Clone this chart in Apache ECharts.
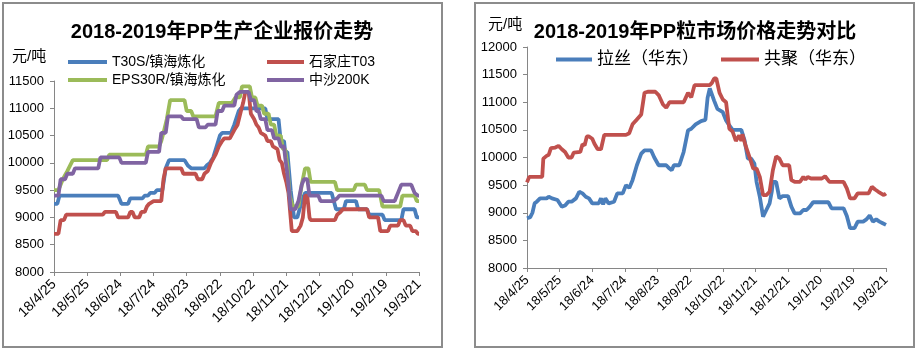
<!DOCTYPE html>
<html><head><meta charset="utf-8">
<script src="https://cdn.jsdelivr.net/npm/echarts@6/dist/echarts.min.js"></script>
<style>html,body{margin:0;padding:0;background:#fff}#c{width:917px;height:349px}</style>
</head><body><div id="c"></div>
<script>
// x values are day offsets from 2018-04-25; ticks every 30 days
const tickLabels = ['18/4/25','18/5/25','18/6/24','18/7/24','18/8/23','18/9/22','18/10/22','18/11/21','18/12/21','19/1/20','19/2/19','19/3/21'];
const leftNames = ['T30S/镇海炼化','石家庄T03','EPS30R/镇海炼化','中沙200K'];
const rightNames = ['拉丝（华东）','共聚（华东）'];

const t30s = [[0,9250],[3,9250],[5,9400],[58,9400],[61,9250],[67,9250],[69,9350],[80,9350],[82,9400],[85,9400],[87,9450],[91,9450],[93,9500],[98,9500],[101,9900],[104,10050],[118,10050],[121,9950],[124,9900],[136,9900],[138,9950],[141,10000],[144,10100],[147,10300],[150,10500],[152,10550],[160,10550],[163,10700],[167,10950],[169,11000],[191,11000],[193,10800],[203,10800],[205,10400],[208,10400],[209,10200],[211,10200],[214,9500],[217,9000],[220,9000],[224,9300],[227,9450],[251,9450],[253,9300],[255,9150],[262,9150],[264,9300],[273,9300],[275,9150],[283,9150],[285,9050],[297,9050],[299,8950],[314,8950],[316,9150],[326,9150],[328,9000],[330,9000]];
const sjzT03 = [[0,8700],[4,8700],[6,8950],[9,8950],[11,9050],[44,9050],[46,9100],[56,9100],[58,9000],[67,9000],[69,9100],[71,9100],[73,9000],[77,9000],[79,9100],[82,9100],[84,9200],[86,9250],[90,9300],[97,9300],[99,9700],[101,9900],[115,9900],[117,9800],[128,9800],[130,9700],[134,9700],[136,9800],[139,9850],[142,10000],[146,10150],[149,10300],[152,10400],[154,10450],[159,10450],[163,10600],[166,10700],[169,10950],[171,11100],[173,11300],[176,11300],[178,10900],[181,10800],[183,10700],[185,10650],[187,10550],[191,10500],[193,10400],[196,10400],[198,10300],[202,10250],[204,10050],[206,10000],[208,9800],[210,9650],[212,9450],[215,8750],[220,8750],[223,8850],[225,9000],[227,9400],[229,9400],[231,9000],[232,8950],[254,8950],[256,9050],[259,9100],[261,9150],[283,9150],[285,9000],[293,9000],[295,8750],[302,8750],[304,8850],[311,8850],[313,8950],[316,8950],[318,8850],[322,8850],[324,8750],[327,8750],[329,8700],[330,8700]];
const eps30r = [[0,9500],[4,9500],[8,9700],[12,9850],[17,10050],[48,10050],[50,10150],[83,10150],[85,10300],[95,10300],[97,10400],[99,10550],[102,10800],[105,11150],[118,11150],[120,10950],[124,10950],[126,10850],[146,10850],[149,11100],[161,11100],[164,11200],[168,11200],[170,11400],[177,11400],[179,11200],[182,11200],[184,11050],[188,11050],[190,10900],[194,10900],[196,10700],[199,10700],[201,10500],[205,10500],[207,10250],[209,10250],[211,9950],[213,9400],[216,9200],[221,9200],[224,9600],[227,9900],[230,9900],[232,9650],[254,9650],[256,9500],[271,9500],[273,9600],[281,9600],[283,9500],[294,9500],[297,9200],[313,9200],[315,9400],[326,9400],[328,9300],[330,9300]];
const zs200k = [[0,9400],[4,9400],[6,9700],[10,9700],[12,9800],[17,9800],[19,9900],[40,9900],[42,10100],[59,10100],[61,10000],[83,10000],[85,10200],[95,10200],[97,10550],[101,10550],[103,10850],[115,10850],[117,10800],[129,10800],[131,10650],[137,10650],[139,10700],[146,10700],[148,10950],[152,10950],[154,11050],[163,11050],[165,11250],[168,11300],[176,11300],[178,11150],[181,11150],[183,10950],[185,10950],[187,10800],[191,10800],[193,10600],[197,10600],[199,10450],[203,10450],[205,10300],[208,10300],[209,10100],[211,9800],[214,9150],[218,9150],[221,9300],[224,9600],[226,9700],[229,9700],[231,9400],[239,9400],[241,9300],[253,9300],[256,9350],[258,9400],[296,9400],[298,9300],[308,9300],[311,9450],[314,9600],[323,9600],[326,9450],[329,9400],[330,9400]];

const lasi = [[0,8900],[3,8920],[5,9000],[7,9170],[9,9200],[12,9260],[18,9260],[20,9290],[23,9260],[28,9230],[32,9110],[35,9130],[38,9200],[41,9200],[45,9260],[48,9380],[51,9350],[54,9290],[57,9260],[60,9170],[66,9170],[68,9260],[70,9150],[72,9260],[75,9170],[80,9200],[83,9350],[88,9350],[91,9500],[94,9450],[97,9590],[101,9860],[105,10070],[108,10130],[114,10130],[117,10000],[121,9860],[128,9860],[131,9800],[133,9770],[135,9860],[140,9860],[142,9980],[144,10100],[148,10490],[151,10520],[155,10600],[160,10660],[164,10680],[166,11080],[168,11250],[172,11030],[175,10880],[180,10820],[183,10670],[186,10580],[189,10500],[197,10500],[200,10310],[203,9980],[206,9980],[209,9890],[211,9560],[214,9290],[217,8930],[220,9050],[223,9170],[225,9380],[226,9560],[229,9560],[232,9260],[235,9300],[240,9300],[243,9110],[246,8990],[251,8990],[254,9050],[257,9050],[260,9110],[263,9190],[277,9190],[280,9080],[291,9080],[294,8940],[297,8720],[301,8720],[304,8840],[309,8840],[312,8880],[315,8950],[318,8840],[321,8880],[324,8840],[327,8810],[330,8780]];
const gongju = [[0,9550],[2,9650],[14,9650],[15,9980],[18,10030],[20,10050],[22,10170],[26,10180],[29,10210],[32,10150],[35,10100],[38,10000],[41,10000],[43,10090],[49,10100],[51,10240],[53,10220],[55,10380],[57,10380],[60,10340],[62,10250],[65,10150],[68,10150],[71,10410],[91,10410],[94,10440],[97,10600],[101,10690],[105,10780],[108,11170],[111,11190],[118,11190],[121,11130],[125,10960],[128,10900],[131,11000],[144,11000],[148,11170],[151,11090],[154,11310],[168,11310],[170,11350],[172,11430],[174,11430],[177,11170],[180,11050],[183,11000],[185,10670],[186,10520],[189,10470],[192,10300],[195,10400],[197,10300],[198,10420],[201,10210],[205,9980],[208,9800],[211,9800],[214,9650],[217,9320],[220,9320],[223,9380],[226,9770],[229,10020],[232,9980],[235,9860],[241,9860],[243,9590],[246,9560],[251,9560],[254,9650],[256,9600],[258,9650],[261,9620],[271,9620],[274,9660],[278,9560],[291,9560],[294,9440],[297,9260],[301,9260],[304,9350],[314,9350],[317,9470],[320,9420],[323,9380],[328,9320],[330,9350]];

const FONT = "'Liberation Sans','Noto Sans CJK SC',sans-serif";
const BLUE='#4A7EBB', RED='#C0504D', GREEN='#9BBB59', PURPLE='#8064A2';
const axisCol = '#868686';

function xAx(gi, fs){
  return {type:'value', gridIndex:gi, min:0, max:330, interval:30,
    axisLine:{lineStyle:{color:axisCol,width:1}}, axisTick:{show:true,length:4,lineStyle:{color:axisCol}},
    splitLine:{show:false},
    axisLabel:{rotate:45, color:'#000', fontFamily:FONT, fontSize:fs, margin:10,
      formatter:v=>tickLabels[Math.round(v/30)]}};
}
function yAx(gi, mx){
  return {type:'value', gridIndex:gi, min:8000, max:mx, interval:500,
    axisLine:{show:true,lineStyle:{color:axisCol,width:1}}, axisTick:{show:true,length:4,inside:false,lineStyle:{color:axisCol}},
    splitLine:{show:false},
    axisLabel:{color:'#000', fontFamily:FONT, fontSize:13, margin:10, formatter:v=>String(v)}};
}
function ser(name, data, color, xi, w){
  return {name, type:'line', data, xAxisIndex:xi, yAxisIndex:xi, symbol:'none', showSymbol:false,
    lineStyle:{color, width:w}, itemStyle:{color}, animation:false, z:3};
}
function leg(name, left, top, fs, iw){
  return {data:[name], left, top, icon:'rect', itemWidth:iw, itemHeight:4, padding:0,
    textStyle:{fontFamily:FONT, fontSize:fs, color:'#000'}, selectedMode:false};
}

const chart = echarts.init(document.getElementById('c'), null, {renderer:'canvas'});
chart.setOption({
  animation:false,
  backgroundColor:'#fff',
  grid:[{left:54, top:81, width:365, height:191},{left:527, top:47, width:359, height:221}],
  xAxis:[xAx(0,14), xAx(1,13)],
  yAxis:[yAx(0,11500), yAx(1,12000)],
  legend:[
    leg(leftNames[0],68,55,14,39), leg(leftNames[1],267,55,14,37),
    leg(leftNames[2],68,73,14,39), leg(leftNames[3],267,73,14,37),
    leg(rightNames[0],556,51,17,36), leg(rightNames[1],721,51,17,38)
  ],
  series:[
    ser(leftNames[0], t30s, BLUE, 0, 3.8),
    ser(leftNames[1], sjzT03, RED, 0, 3.8),
    ser(leftNames[2], eps30r, GREEN, 0, 3.8),
    ser(leftNames[3], zs200k, PURPLE, 0, 3.8),
    ser(rightNames[0], lasi, BLUE, 1, 3.8),
    ser(rightNames[1], gongju, RED, 1, 3.8)
  ],
  graphic:[
    {type:'rect', shape:{x:3,y:3,width:439,height:344}, style:{fill:'none',stroke:'#8c8c8c',lineWidth:2}, silent:true},
    {type:'rect', shape:{x:475,y:3,width:439,height:344}, style:{fill:'none',stroke:'#8c8c8c',lineWidth:2}, silent:true},
    {type:'text', x:222, y:32, style:{text:'2018-2019年PP生产企业报价走势', font:"bold 20px "+FONT, fill:'#000', textAlign:'center', textVerticalAlign:'middle'}},
    {type:'text', x:695, y:32, style:{text:'2018-2019年PP粒市场价格走势对比', font:"bold 20px "+FONT, fill:'#000', textAlign:'center', textVerticalAlign:'middle'}},
    {type:'text', x:12, y:57, style:{text:'元/吨', font:"15px "+FONT, fill:'#000', textAlign:'left', textVerticalAlign:'middle'}},
    {type:'text', x:488, y:25, style:{text:'元/吨', font:"15px "+FONT, fill:'#000', textAlign:'left', textVerticalAlign:'middle'}}
  ]
});
</script></body></html>
